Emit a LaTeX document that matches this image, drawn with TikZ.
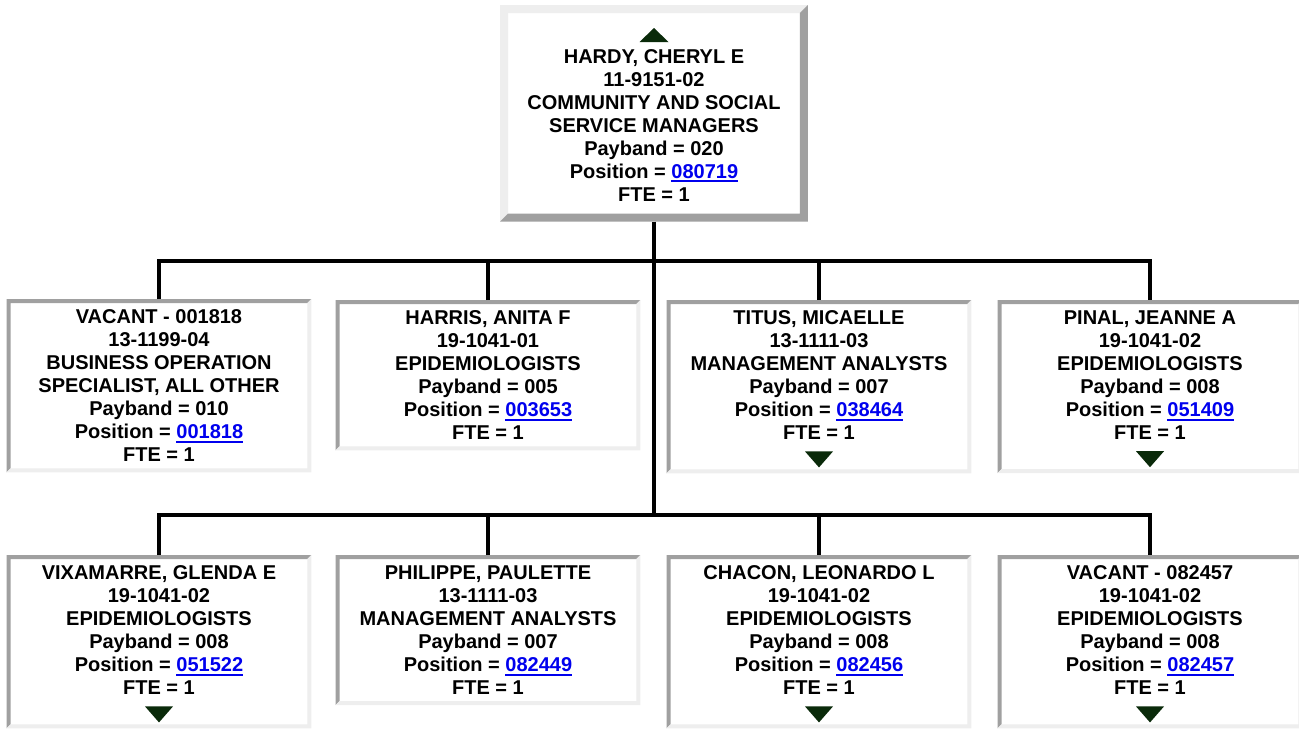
\documentclass[tikz,border=0pt]{standalone}
\usepackage{fontspec}
\setmainfont{Liberation Sans}
\usepackage{xcolor}
\usepackage{tikz}
\usetikzlibrary{calc}
\definecolor{edgelight}{HTML}{EEEEEE}
\definecolor{edgedark}{HTML}{A0A0A0}
\definecolor{linkblue}{HTML}{0000EE}
\definecolor{tipgreen}{HTML}{0A2A0A}

\newcommand{\chartfont}{\fontsize{11.38}{13.09}\selectfont\bfseries}
% underlined position number
\newcommand{\poslink}[1]{{\color{linkblue}\setbox0\hbox{#1}\rlap{\rule[-2.3pt]{\wd0}{1.1pt}}\box0}}
% room for the down marker under the last line
\newcommand{\tipspace}{\rule[-13.1pt]{0pt}{13.1pt}}
% bevelled border: node, top-left colour, bottom-right colour, width
\newcommand{\boxedge}[4]{%
  \fill[#2] (#1.south west) -- (#1.north west) -- (#1.north east)
    -- ([shift={(-#4,-#4)}]#1.north east) -- ([shift={(#4,-#4)}]#1.north west)
    -- ([shift={(#4,#4)}]#1.south west) -- cycle;
  \fill[#3] (#1.south west) -- (#1.south east) -- (#1.north east)
    -- ([shift={(-#4,-#4)}]#1.north east) -- ([shift={(-#4,#4)}]#1.south east)
    -- ([shift={(#4,#4)}]#1.south west) -- cycle;
}
\newcommand{\downtip}[1]{%
  \fill[tipgreen] ([shift={(-14,22)}]#1.south) -- ([shift={(14,22)}]#1.south) -- ([shift={(0,6)}]#1.south) -- cycle;
}

\begin{document}
\begin{tikzpicture}[
  x=0.02cm, y=0.02cm,
  person/.style={fill=white, align=center, font=\chartfont, anchor=north,
                 inner xsep=0pt, inner ysep=6.1pt, outer sep=0pt,
                 minimum width=6.1cm},
  head/.style={person, minimum width=6.16cm, inner ysep=11.6pt},
  link/.style={line width=0.07cm, black}
]
  \useasboundingbox (0,0) rectangle (1299,-728);

  \node[head] (top) at (654,-5) {\rule{0pt}{21.6pt}HARDY, CHERYL E\\11-9151-02\\COMMUNITY AND SOCIAL\\SERVICE MANAGERS\\Payband = 020\\Position = \poslink{080719}\\FTE = 1};

  % first row
  \node[person] (c1) at (159,-299) {VACANT - 001818\\13-1199-04\\BUSINESS OPERATION\\SPECIALIST, ALL OTHER\\Payband = 010\\Position = \poslink{001818}\\FTE = 1};
  \node[person] (c2) at (488,-300) {HARRIS, ANITA F\\19-1041-01\\EPIDEMIOLOGISTS\\Payband = 005\\Position = \poslink{003653}\\FTE = 1};
  \node[person] (c3) at (819,-300) {TITUS, MICAELLE\\13-1111-03\\MANAGEMENT ANALYSTS\\Payband = 007\\Position = \poslink{038464}\\FTE = 1\tipspace};
  \node[person] (c4) at (1150,-300) {PINAL, JEANNE A\\19-1041-02\\EPIDEMIOLOGISTS\\Payband = 008\\Position = \poslink{051409}\\FTE = 1\tipspace};

  % second row
  \node[person] (c5) at (159,-555) {VIXAMARRE, GLENDA E\\19-1041-02\\EPIDEMIOLOGISTS\\Payband = 008\\Position = \poslink{051522}\\FTE = 1\tipspace};
  \node[person] (c6) at (488,-555) {PHILIPPE, PAULETTE\\13-1111-03\\MANAGEMENT ANALYSTS\\Payband = 007\\Position = \poslink{082449}\\FTE = 1};
  \node[person] (c7) at (819,-555) {CHACON, LEONARDO L\\19-1041-02\\EPIDEMIOLOGISTS\\Payband = 008\\Position = \poslink{082456}\\FTE = 1\tipspace};
  \node[person] (c8) at (1150,-555) {VACANT - 082457\\19-1041-02\\EPIDEMIOLOGISTS\\Payband = 008\\Position = \poslink{082457}\\FTE = 1\tipspace};

  \boxedge{top}{edgelight}{edgedark}{8}
  \boxedge{c1}{edgedark}{edgelight}{4}
  \boxedge{c2}{edgedark}{edgelight}{4}
  \boxedge{c3}{edgedark}{edgelight}{4}
  \boxedge{c4}{edgedark}{edgelight}{4}
  \boxedge{c5}{edgedark}{edgelight}{4}
  \boxedge{c6}{edgedark}{edgelight}{4}
  \boxedge{c7}{edgedark}{edgelight}{4}
  \boxedge{c8}{edgedark}{edgelight}{4}

  \fill[tipgreen] ([shift={(-14.5,-37)}]top.north) -- ([shift={(14.5,-37)}]top.north) -- ([shift={(0,-23)}]top.north) -- cycle;
  \downtip{c3}
  \downtip{c4}
  \downtip{c5}
  \downtip{c7}
  \downtip{c8}

  \coordinate (bus1) at (654,-261);
  \coordinate (bus2) at (654,-515);
  \draw[link] (top.south) -- (bus2);
  \draw[link] (c1.north) |- (bus1) -| (c4.north);
  \draw[link] (c2.north) -- (c2.north |- bus1);
  \draw[link] (c3.north) -- (c3.north |- bus1);
  \draw[link] (c5.north) |- (bus2) -| (c8.north);
  \draw[link] (c6.north) -- (c6.north |- bus2);
  \draw[link] (c7.north) -- (c7.north |- bus2);
\end{tikzpicture}
\end{document}
